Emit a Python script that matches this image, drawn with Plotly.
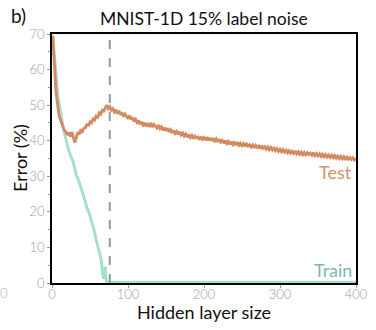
import plotly.graph_objects as go

# Hidden layer sizes and error rates (%) for the MNIST-1D run with 15% label noise
test_size = [1, 2, 3, 4, 5, 6, 7, 8, 9, 10] + list(range(12, 401, 2))
test_err = [
    69.5, 65.0, 60.0, 57.0, 54.5, 52.4, 50.0, 48.6, 47.5, 46.6,
    45.3, 44.2, 43.0, 42.6, 41.6, 42.3, 41.2, 42.5, 41.0, 39.5,
    40.9, 42.4, 41.8, 43.2, 42.6, 43.5, 43.6, 44.8, 44.1, 45.3,
    45.0, 46.1, 45.8, 46.9, 46.6, 47.8, 47.4, 48.5, 48.3, 49.2,
    50.0, 49.1, 49.6, 48.6, 49.0, 48.1, 48.7, 47.6, 48.4, 47.3,
    47.9, 46.8, 47.5, 46.9, 46.2, 47.1, 46.0, 46.6, 45.4, 46.0,
    45.1, 45.7, 44.6, 45.3, 44.4, 45.0, 44.0, 44.9, 44.2, 44.7,
    43.8, 44.6, 44.1, 43.6, 44.4, 43.4, 43.9, 42.9, 43.7, 42.8,
    43.5, 42.5, 43.1, 42.2, 42.9, 42.0, 42.6, 41.8, 42.5, 41.6,
    42.2, 41.3, 41.9, 41.0, 41.7, 40.9, 41.5, 40.6, 41.3, 40.8,
    41.0, 40.3, 41.1, 40.4, 40.9, 40.2, 41.0, 40.1, 40.8, 40.0,
    40.7, 39.9, 40.5, 39.7, 40.4, 39.6, 40.1, 39.3, 40.0, 39.2,
    39.8, 39.0, 39.7, 38.9, 39.5, 38.8, 39.6, 38.7, 39.3, 38.6,
    39.2, 38.4, 39.1, 38.5, 38.9, 38.2, 38.8, 38.0, 38.7, 38.1,
    38.5, 37.8, 38.6, 37.9, 38.3, 37.6, 38.2, 37.5, 38.1, 37.4,
    37.9, 37.2, 37.8, 37.0, 37.6, 36.9, 37.5, 36.8, 37.3, 36.6,
    37.2, 36.5, 37.0, 36.4, 37.1, 36.3, 36.9, 36.2, 36.8, 36.1,
    36.7, 36.0, 36.6, 36.1, 36.5, 35.9, 36.6, 35.8, 36.4, 35.7,
    36.3, 35.6, 36.2, 35.5, 36.1, 35.4, 36.0, 35.3, 35.9, 35.2,
    35.8, 35.1, 35.7, 35.0, 35.6, 34.9, 35.5, 34.9, 35.4, 34.8,
    35.3, 34.7, 35.2, 34.6, 35.0,
]

train_size = [1, 2, 3, 4, 5, 6, 7, 8, 9, 10, 12, 14, 16, 18, 20, 22, 24, 26,
              28, 30, 32, 34, 36, 38, 40, 42, 44, 46, 48, 50, 52, 54, 56, 58,
              60, 62, 64, 65, 66, 67, 68, 69, 70, 71, 72, 76, 100, 150, 200,
              250, 300, 350, 400]
train_err = [69.0, 66.5, 63.5, 61.5, 58.5, 56.0, 54.0, 52.4, 51.0, 49.5, 47.0, 44.5, 42.5, 41.0, 39.0, 37.2, 35.8, 35.0,
             34.0, 32.0, 30.3, 29.5, 28.2, 26.5, 25.0, 24.0, 22.8, 21.0, 20.2, 18.8, 17.5, 15.9, 14.4, 12.3,
             10.6, 9.3, 7.2, 6.3, 3.5, 1.8, 1.2, 3.2, 4.6, 1.0, 0.2, 0.2, 0.2, 0.2, 0.2,
             0.2, 0.2, 0.2, 0.2]

critical_size = 76

TEST_COLOR = "#d38a5f"
TRAIN_COLOR = "#a7ded2"
FONT = "Lato"

fig = go.Figure()
fig.add_trace(go.Scatter(x=train_size, y=train_err, mode="lines",
                         line=dict(color=TRAIN_COLOR, width=3), hoverinfo="skip"))
fig.add_trace(go.Scatter(x=test_size, y=test_err, mode="lines",
                         line=dict(color=TEST_COLOR, width=2.8), hoverinfo="skip"))

fig.add_shape(type="line", x0=critical_size, x1=critical_size, y0=0, y1=70,
              xref="x", yref="y", line=dict(color="#8e9a9c", width=2, dash="dash"))

fig.add_annotation(x=398, y=31.2, xref="x", yref="y", text="Test", showarrow=False,
                   xanchor="right", yanchor="middle",
                   font=dict(family=FONT, size=18, color="#d4916a", weight=400))
fig.add_annotation(x=398, y=3.7, xref="x", yref="y", text="Train", showarrow=False,
                   xanchor="right", yanchor="middle",
                   font=dict(family=FONT, size=18, color="#80b6b2", weight=400))

fig.add_annotation(x=0.5, y=1, xref="paper", yref="paper", yshift=3,
                   text="MNIST-1D 15% label noise", showarrow=False,
                   xanchor="center", yanchor="bottom",
                   font=dict(family=FONT, size=17.5, color="#111", weight=400))

# Text outside the plot area, positioned in pixels of the 376x330 page
L, R, T, B = 52, 20, 34, 47
pw, ph = 376 - L - R, 330 - T - B


def px_to_paper(px, py):
    return (px - L) / pw, (330 - B - py) / ph


for text, (px, py), size, color, angle in [
    ("b)", (18, 16), 19, "#111", 0),
    ("0", (4, 293), 13, "#aaaaaa", 0),
    ("Hidden layer size", (204, 312), 18, "#111", 0),
    ("Error (%)", (20, 158), 18, "#111", -90),
]:
    ax, ay = px_to_paper(px, py)
    fig.add_annotation(x=ax, y=ay, xref="paper", yref="paper", text=text,
                       showarrow=False, xanchor="center", yanchor="middle",
                       textangle=angle,
                       font=dict(family=FONT, size=size, color=color,
                                 weight=300 if text == "0" else 400))

axis_common = dict(showline=True, linecolor="black", linewidth=1.5, mirror=True,
                   showgrid=False, zeroline=False, ticks="outside", ticklen=3,
                   automargin=False, tickcolor="#999999",
                   tickfont=dict(family=FONT, size=13, color="#9a9a9a", weight=300))

fig.update_xaxes(range=[0, 400], tickvals=[0, 100, 200, 300, 400],
                 ticklabelstandoff=-4, **axis_common)
fig.update_yaxes(range=[0, 70], tickvals=[0, 10, 20, 30, 40, 50, 60, 70],
                 minor=dict(tickvals=[5, 15, 25, 35, 45, 55, 65], ticks="outside",
                            ticklen=2, tickcolor="#999999"),
                 **axis_common)

fig.update_layout(width=376, height=330, showlegend=False,
                  margin=dict(l=L, r=R, t=T, b=B),
                  plot_bgcolor="white", paper_bgcolor="white")

fig.write_html("out.html")
